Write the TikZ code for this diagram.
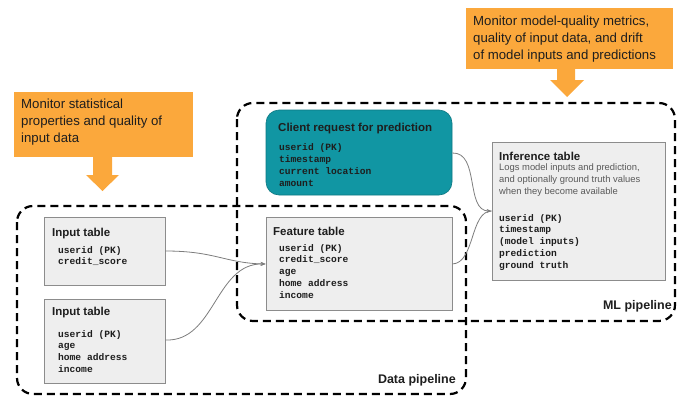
\documentclass[tikz,border=0pt]{standalone}
\usepackage{fontspec}
\setmainfont{Liberation Sans}
\newfontfamily\monofont{Liberation Mono}
\usetikzlibrary{arrows.meta}
\definecolor{callout}{RGB}{251,168,60}
\definecolor{teal}{RGB}{17,150,163}
\definecolor{tblfill}{RGB}{238,238,238}
\definecolor{tbledge}{RGB}{140,140,140}
\definecolor{wire}{RGB}{125,125,125}
\definecolor{ink}{RGB}{30,30,30}
\begin{document}
\begin{tikzpicture}[x=1pt,y=-1pt,
  pipeline/.style={draw=black,line width=2.2pt,dash pattern=on 8pt off 5pt,rounded corners=16pt},
  tbl/.style={draw=tbledge,fill=tblfill,line width=0.8pt,inner sep=0pt},
  reqbox/.style={draw=teal!80!black,fill=teal,rounded corners=13pt,line width=0.6pt,inner sep=0pt},
  note/.style={fill=callout,inner sep=0pt},
  ttl/.style={anchor=west,inner sep=0pt,font=\fontsize{11.5}{13}\selectfont\bfseries,text=ink},
  fields/.style={anchor=north west,inner sep=0pt,align=left,font=\monofont\fontsize{9.6}{11.8}\selectfont\bfseries,text=ink},
  desc/.style={anchor=north west,inner sep=0pt,align=left,font=\fontsize{9.4}{12}\selectfont,text=black!65},
  notetext/.style={anchor=north west,inner sep=0pt,align=left,font=\fontsize{13.2}{16.8}\selectfont,text=ink},
  plabel/.style={anchor=east,inner sep=0pt,font=\fontsize{12.5}{14}\selectfont\bfseries,text=ink},
  link/.style={draw=wire,line width=0.8pt},
  tip/.style={-{Stealth[length=5pt,width=4pt]}}
]
\useasboundingbox (0,0) rectangle (680,399);

% callouts with their arrows
\node[note,minimum width=179,minimum height=65] (c1) at (103.5,124.5) {};
\node[notetext] at (21,99) {Monitor statistical\\properties and quality of\\input data};
\fill[callout] (93,157) -- (112,157) -- (112,175) -- (119,175) -- (102.5,191) -- (86,175) -- (93,175) -- cycle;

\node[note,minimum width=207,minimum height=61] (c2) at (569.5,38.5) {};
\node[notetext] at (473,16) {Monitor model-quality metrics,\\quality of input data, and drift\\of model inputs and predictions};
\fill[callout] (557,69) -- (575,69) -- (575,80) -- (584,80) -- (567,97) -- (550,80) -- (557,80) -- cycle;

% pipeline frames
\draw[pipeline] (237,103) rectangle (675,321);
\draw[pipeline] (17,206) rectangle (466,394);
\node[plabel] (mlp) at (672,306) {ML pipeline};
\node[plabel] (dp) at (456,380) {Data pipeline};

% client request
\node[reqbox,minimum width=186,minimum height=85] (req) at (359,152.5) {};
\node[ttl] at (278,129) {Client request for prediction};
\node[fields] at (279,143.5) {userid (PK)\\timestamp\\current location\\amount};

% input tables
\node[tbl,minimum width=121,minimum height=68] (in1) at (104.5,251) {};
\node[ttl] at (52,234) {Input table};
\node[fields] at (58,246) {userid (PK)\\credit\_score};

\node[tbl,minimum width=121,minimum height=84] (in2) at (104.5,341) {};
\node[ttl] at (52,313) {Input table};
\node[fields] at (58,330) {userid (PK)\\age\\home address\\income};

% feature table
\node[tbl,minimum width=186,minimum height=93] (feat) at (359,263.5) {};
\node[ttl] at (273,231) {Feature table};
\node[fields] at (279,244) {userid (PK)\\credit\_score\\age\\home address\\income};

% inference table
\node[tbl,minimum width=173,minimum height=138] (inf) at (578.5,211) {};
\node[ttl] at (499,156) {Inference table};
\node[desc] at (499,163) {Logs model inputs and prediction,\\and optionally ground truth values\\when they become available};
\node[fields] at (499,214) {userid (PK)\\timestamp\\(model inputs)\\prediction\\ground truth};

% connectors
\coordinate (featin) at ([yshift=-0.5]feat.west);
\coordinate (infin) at (inf.west);
\draw[link,tip] ([yshift=0]in1.east) .. controls (215,251) and (225,263) .. (featin);
\draw[link,tip] ([yshift=1]in2.east) .. controls (215,342) and (215,263) .. (featin);
\draw[link,tip] ([yshift=-0.5]req.east) .. controls (480,152) and (465,211) .. (infin);
\draw[link] ([yshift=-0.5]feat.east) .. controls (475,263) and (470,211) .. (infin);
\end{tikzpicture}
\end{document}
